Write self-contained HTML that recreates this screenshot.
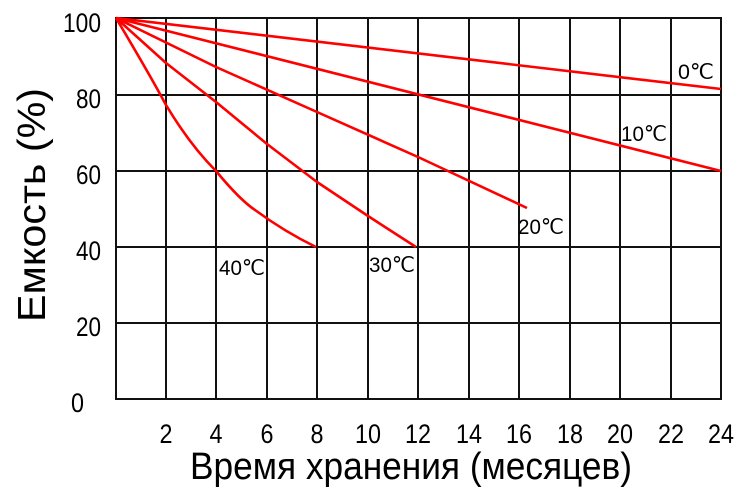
<!DOCTYPE html>
<html><head><meta charset="utf-8"><style>
html,body{margin:0;padding:0;background:#fff;}
svg text{font-family:"Liberation Sans",sans-serif;fill:#000;}
</style></head><body>
<svg width="750" height="498" viewBox="0 0 750 498" xmlns="http://www.w3.org/2000/svg">
<g stroke="#111" stroke-width="2" fill="none">
<rect x="116" y="18" width="605" height="381"/>
<line x1="116" y1="95" x2="721" y2="95"/>
<line x1="116" y1="171" x2="721" y2="171"/>
<line x1="116" y1="247" x2="721" y2="247"/>
<line x1="116" y1="323" x2="721" y2="323"/>
<line x1="166" y1="18" x2="166" y2="399"/>
<line x1="216" y1="18" x2="216" y2="399"/>
<line x1="267" y1="18" x2="267" y2="399"/>
<line x1="317" y1="18" x2="317" y2="399"/>
<line x1="368" y1="18" x2="368" y2="399"/>
<line x1="418" y1="18" x2="418" y2="399"/>
<line x1="469" y1="18" x2="469" y2="399"/>
<line x1="519" y1="18" x2="519" y2="399"/>
<line x1="570" y1="18" x2="570" y2="399"/>
<line x1="620" y1="18" x2="620" y2="399"/>
<line x1="671" y1="18" x2="671" y2="399"/>
</g>
<g stroke="#f00" stroke-width="2.6" fill="none" stroke-linejoin="round">
<line x1="116" y1="18" x2="721" y2="89"/>
<line x1="116" y1="18" x2="721" y2="171"/>
<polyline points="116,18 216,67 317,112 418,157 527,208"/>
<polyline points="116,18 166,63 216,102 267,144 317,182 368,216 416,247"/>
<path d="M116,18 Q150,75 166,105 Q190,145 216,171 Q240,200 255,210 Q285,232 316,247"/>
</g>
<g font-size="27" text-anchor="end">
<text x="101" y="32" textLength="38" lengthAdjust="spacingAndGlyphs">100</text>
<text x="101" y="108" textLength="25" lengthAdjust="spacingAndGlyphs">80</text>
<text x="101" y="184" textLength="25" lengthAdjust="spacingAndGlyphs">60</text>
<text x="101" y="260" textLength="25" lengthAdjust="spacingAndGlyphs">40</text>
<text x="101" y="336" textLength="25" lengthAdjust="spacingAndGlyphs">20</text>
<text x="84" y="412" textLength="13" lengthAdjust="spacingAndGlyphs">0</text>
</g>
<g font-size="27" text-anchor="middle">
<text x="166" y="443" textLength="13" lengthAdjust="spacingAndGlyphs">2</text><text x="216" y="443" textLength="13" lengthAdjust="spacingAndGlyphs">4</text><text x="267" y="443" textLength="13" lengthAdjust="spacingAndGlyphs">6</text>
<text x="317" y="443" textLength="13" lengthAdjust="spacingAndGlyphs">8</text>
<text x="368" y="443" textLength="26" lengthAdjust="spacingAndGlyphs">10</text>
<text x="418" y="443" textLength="26" lengthAdjust="spacingAndGlyphs">12</text>
<text x="469" y="443" textLength="26" lengthAdjust="spacingAndGlyphs">14</text>
<text x="519" y="443" textLength="26" lengthAdjust="spacingAndGlyphs">16</text>
<text x="570" y="443" textLength="26" lengthAdjust="spacingAndGlyphs">18</text>
<text x="620" y="443" textLength="26" lengthAdjust="spacingAndGlyphs">20</text>
<text x="671" y="443" textLength="26" lengthAdjust="spacingAndGlyphs">22</text>
<text x="721" y="443" textLength="26" lengthAdjust="spacingAndGlyphs">24</text>
</g>
<g font-size="21">
<text x="678" y="79" textLength="36" lengthAdjust="spacingAndGlyphs">0℃</text>
<text x="621" y="141" textLength="46" lengthAdjust="spacingAndGlyphs">10℃</text>
<text x="518" y="234" textLength="46" lengthAdjust="spacingAndGlyphs">20℃</text>
<text x="369" y="272" textLength="46" lengthAdjust="spacingAndGlyphs">30℃</text>
<text x="219" y="275" textLength="46" lengthAdjust="spacingAndGlyphs">40℃</text>
</g>
<text x="411" y="479" font-size="38" text-anchor="middle" textLength="442" lengthAdjust="spacingAndGlyphs">Время хранения (месяцев)</text>
<text transform="translate(45,205) rotate(-90)" font-size="39" text-anchor="middle" textLength="234" lengthAdjust="spacingAndGlyphs">Емкость (%)</text>
</svg>
</body></html>
